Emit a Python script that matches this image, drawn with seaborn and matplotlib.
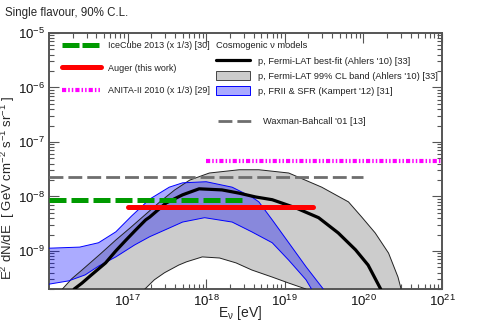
import numpy as np
import pandas as pd
import matplotlib
matplotlib.use("Agg")
import matplotlib.pyplot as plt
import seaborn as sns
from matplotlib.lines import Line2D
from matplotlib.patches import Patch

# log10(E/eV) and log10(E^2 dN/dE / GeV cm^-2 s^-1 sr^-1)
fermi_best_logE = [16.32, 16.42, 16.54, 16.72, 16.85, 16.98, 17.10, 17.23, 17.28, 17.49,
                   17.70, 17.91, 18.20, 18.42, 18.63, 18.84, 19.14, 19.43, 19.68, 19.90,
                   20.06, 20.22]
fermi_best_logF = [-9.70, -9.59, -9.44, -9.22, -9.00, -8.80, -8.62, -8.43, -8.38, -8.12,
                   -7.97, -7.86, -7.88, -7.94, -8.01, -8.06, -8.21, -8.39, -8.67, -8.98,
                   -9.26, -9.70]

fermi_band_hi_logE = [16.17, 16.29, 16.42, 16.65, 16.85, 17.03, 17.22, 17.41, 17.60, 17.79,
                      18.04, 18.42, 18.67, 19.05, 19.47, 19.81, 19.98, 20.15, 20.32, 20.44,
                      20.48]
fermi_band_hi_logF = [-9.70, -9.51, -9.35, -9.06, -8.80, -8.58, -8.34, -8.10, -7.88, -7.70,
                      -7.57, -7.51, -7.51, -7.57, -7.83, -8.10, -8.38, -8.67, -9.04, -9.48,
                      -9.70]
fermi_band_lo_logE = [17.22, 17.34, 17.47, 17.65, 17.75, 17.95, 18.17, 18.38, 18.58, 18.84,
                      19.05, 19.27]
fermi_band_lo_logF = [-9.70, -9.53, -9.40, -9.26, -9.20, -9.11, -9.13, -9.22, -9.35, -9.48,
                      -9.59, -9.70]

frii_hi_logE = [16.00, 16.39, 16.63, 16.85, 17.05, 17.28, 17.53, 17.70, 18.00, 18.33,
                18.58, 18.67, 18.84, 19.05, 19.27, 19.49]
frii_hi_logF = [-8.95, -8.93, -8.85, -8.65, -8.36, -8.05, -7.83, -7.75, -7.73, -7.83,
                -8.01, -8.10, -8.43, -8.85, -9.29, -9.70]
frii_lo_logE = [16.00, 16.25, 16.46, 16.63, 16.85, 17.09, 17.28, 17.53, 17.70, 17.98,
                18.33, 18.58, 18.84, 19.05, 19.27, 19.34]
frii_lo_logF = [-9.61, -9.55, -9.44, -9.28, -9.11, -8.89, -8.74, -8.58, -8.47, -8.39,
                -8.47, -8.65, -8.85, -9.17, -9.53, -9.70]

# integrated limits: energy range [eV] and flux level
icecube_E = [1e16, 3e18]
icecube_F = 8.5e-9
auger_E = [1e17, 2.3e19]
auger_F = 6.5e-9
anita_E = [1e18, 1e21]
anita_F = 4.4e-8
wb_E = [1e16, 1e20]
wb_F = 2.3e-8

sns.set_theme(style="ticks")
plt.rcParams["font.family"] = ["Liberation Sans", "DejaVu Sans"]
plt.rcParams["mathtext.default"] = "regular"

fig = plt.figure(figsize=(4.91, 3.21), dpi=100)
ax = fig.add_axes([49 / 491, 1 - 289 / 321, 393 / 491, 256 / 321])
ax.set_xscale("log")
ax.set_yscale("log")

grey_fill = "#cccccc"
blue_c = "#0000ff"

# Fermi-LAT 99% band
band_x = 10 ** np.r_[fermi_band_hi_logE, fermi_band_lo_logE[::-1]]
band_y = 10 ** np.r_[fermi_band_hi_logF, fermi_band_lo_logF[::-1]]
ax.fill(band_x, band_y, color=grey_fill, lw=0, zorder=1)

# FRII & SFR band
frii_x = 10 ** np.r_[frii_hi_logE, frii_lo_logE[::-1]]
frii_y = 10 ** np.r_[frii_hi_logF, frii_lo_logF[::-1]]
ax.fill(frii_x, frii_y, color=blue_c, alpha=0.33, lw=0, zorder=2)

edges = [
    (fermi_band_hi_logE, fermi_band_hi_logF, "#222222"),
    (fermi_band_lo_logE, fermi_band_lo_logF, "#222222"),
    (frii_hi_logE, frii_hi_logF, blue_c),
    (frii_lo_logE, frii_lo_logF, blue_c),
]
for ex, ey, c in edges:
    df = pd.DataFrame({"E": 10 ** np.array(ex), "F": 10 ** np.array(ey)})
    sns.lineplot(data=df, x="E", y="F", ax=ax, color=c, lw=0.7, sort=False,
                 estimator=None, zorder=3)

best = pd.DataFrame({"E": 10 ** np.array(fermi_best_logE), "F": 10 ** np.array(fermi_best_logF)})
sns.lineplot(data=best, x="E", y="F", ax=ax, color="black", lw=2.3, sort=False,
             estimator=None, zorder=4)

# horizontal limits
limits = [
    (wb_E, wb_F, "#6e6e6e", 2.0, (0, (5.0, 1.8))),
    (anita_E, anita_F, "#ff00ff", 3.0, (0, (1.0, 0.5, 0.35, 0.5, 0.35, 0.5))),
    (icecube_E, icecube_F, "#009a00", 3.6, (0, (3.4, 1.0))),
    (auger_E, auger_F, "#ff0000", 3.6, "-"),
]
for i, (xe, fl, c, w, ls) in enumerate(limits):
    df = pd.DataFrame({"E": xe, "F": [fl, fl]})
    sns.lineplot(data=df, x="E", y="F", ax=ax, color=c, lw=w, linestyle=ls,
                 sort=False, estimator=None, zorder=5 + i)

ax.set_xlim(1e16, 1e21)
ax.set_ylim(2e-10, 1e-5)
ax.set_xticks([1e17, 1e18, 1e19, 1e20, 1e21])
ax.set_yticks([1e-9, 1e-8, 1e-7, 1e-6, 1e-5])
ax.xaxis.set_minor_locator(matplotlib.ticker.LogLocator(base=10, subs=np.arange(2, 10), numticks=20))
ax.yaxis.set_minor_locator(matplotlib.ticker.LogLocator(base=10, subs=np.arange(2, 10), numticks=20))
ax.yaxis.set_minor_formatter(matplotlib.ticker.NullFormatter())
ax.xaxis.set_minor_formatter(matplotlib.ticker.NullFormatter())

spine_c = "#555555"
for s in ax.spines.values():
    s.set_color(spine_c)
    s.set_linewidth(1.4)
ax.tick_params(which="both", direction="in", top=True, right=True, color=spine_c,
               labelsize=9.5, labelcolor="#111111", width=0.8)
ax.tick_params(axis="y", pad=3)
ax.tick_params(which="major", length=7)
ax.tick_params(which="minor", length=3.5)

ax.set_xlabel(r"E$_{\nu}$ [eV]", fontsize=10)
ax.set_ylabel(r"E$^{2}$ dN/dE  [ GeV cm$^{-2}$ s$^{-1}$ sr$^{-1}$ ]", fontsize=9.5)
ax.xaxis.set_label_coords(0.486, -0.058)
ax.yaxis.set_label_coords(-0.082, 0.395)
fig.text(5 / 491, 1 - 13 / 321, "Single flavour, 90% C.L.", fontsize=8.3, va="center")

leg_kw = dict(frameon=False, borderpad=0, borderaxespad=0, labelcolor="#222222")

left_handles = [
    Line2D([], [], color="#009a00", lw=3.6, linestyle=(0, (3.4, 0.6))),
    Line2D([], [], color="#ff0000", lw=3.6),
    Line2D([], [], color="#ff00ff", lw=3.0, linestyle=(0, (1.0, 0.5, 0.35, 0.5, 0.35, 0.5))),
]
left_labels = ["IceCube 2013 (x 1/3) [30]", "Auger (this work)", "ANITA-II 2010 (x 1/3) [29]"]
leg1 = ax.legend(left_handles, left_labels, loc="upper left", bbox_to_anchor=(0.033, 0.968),
                 fontsize=6.5, handlelength=4.3, handletextpad=0.85, labelspacing=1.48, **leg_kw)
ax.add_artist(leg1)

right_handles = [
    Line2D([], [], color="black", lw=2.3),
    Patch(facecolor=grey_fill, edgecolor="#444444", lw=0.7),
    Patch(facecolor="#aaaaff", edgecolor=blue_c, lw=0.7),
]
right_labels = ["p, Fermi-LAT best-fit (Ahlers '10) [33]",
                "p, Fermi-LAT 99% CL band (Ahlers '10) [33]",
                "p, FRII & SFR (Kampert '12) [31]"]
leg2 = ax.legend(right_handles, right_labels, loc="upper left", bbox_to_anchor=(0.425, 0.967),
                 fontsize=6.7, handlelength=3.7, handleheight=1.1, handletextpad=0.8,
                 labelspacing=0.6, title="Cosmogenic \u03bd models", title_fontsize=6.7,
                 alignment="left", **leg_kw)
leg2.get_title().set_color("#222222")
ax.add_artist(leg2)

wb_handle = [Line2D([], [], color="#6e6e6e", lw=2.0, linestyle=(0, (5.0, 1.8)))]
ax.legend(wb_handle, ["Waxman-Bahcall '01 [13]"], loc="upper left",
          bbox_to_anchor=(0.43, 0.672), fontsize=6.7, handlelength=3.7, handletextpad=1.1,
          **leg_kw)

fig.savefig("out.png", dpi=100)
